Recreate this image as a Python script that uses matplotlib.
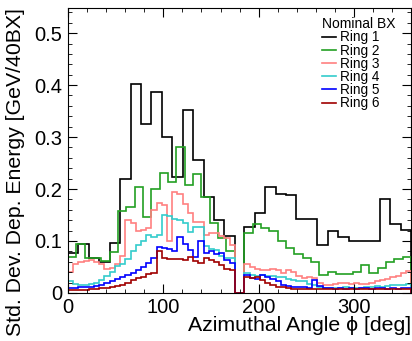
import numpy as np
import matplotlib
matplotlib.use("Agg")
import matplotlib.pyplot as plt
from matplotlib.ticker import MultipleLocator

plt.rcParams['font.family'] = ['Liberation Sans', 'DejaVu Sans']

# phi ranges of the two detector halves (gap 175-185 deg)
half1 = (0.0, 175.0)
half2 = (185.0, 360.0)

# ring 1: 16 segments per half
ring1_a = [0.0775, 0.095, 0.067, 0.060, 0.097, 0.22, 0.402, 0.325, 0.387, 0.30,
           0.2225, 0.353, 0.256, 0.185, 0.14, 0.11]
ring1_b = [0.1275, 0.153, 0.203, 0.19, 0.188, 0.142, 0.142, 0.093, 0.12, 0.108,
           0.10, 0.10, 0.10, 0.181, 0.132, 0.121]

# ring 2: 20 segments per half
ring2_a = [0.069, 0.094, 0.068, 0.067, 0.062, 0.078, 0.158, 0.165, 0.204, 0.147,
           0.20, 0.23, 0.213, 0.281, 0.208, 0.229, 0.185, 0.135, 0.105, 0.08]
ring2_b = [0.115, 0.133, 0.125, 0.12, 0.10, 0.086, 0.075, 0.067, 0.060, 0.035,
           0.041, 0.036, 0.036, 0.041, 0.054, 0.038, 0.047, 0.060, 0.065, 0.069]

# rings 3-6: 32 segments per half
ring3_a = [0.040, 0.055, 0.060, 0.062, 0.064, 0.060, 0.055, 0.046, 0.048, 0.055,
           0.072, 0.140, 0.135, 0.120, 0.121, 0.125, 0.160, 0.174, 0.170, 0.100,
           0.195, 0.190, 0.172, 0.153, 0.137, 0.137, 0.112, 0.116, 0.116, 0.110,
           0.105, 0.092]
ring3_b = [0.055, 0.050, 0.046, 0.044, 0.044, 0.046, 0.044, 0.038, 0.044, 0.040,
           0.032, 0.028, 0.030, 0.028, 0.020, 0.016, 0.016, 0.018, 0.019, 0.019,
           0.018, 0.019, 0.017, 0.018, 0.020, 0.022, 0.024, 0.026, 0.030, 0.033,
           0.038, 0.042]

ring4_a = [0.022, 0.018, 0.016, 0.016, 0.018, 0.020, 0.024, 0.032, 0.040, 0.052,
           0.055, 0.065, 0.080, 0.092, 0.100, 0.111, 0.108, 0.112, 0.150, 0.148,
           0.143, 0.140, 0.135, 0.118, 0.127, 0.127, 0.090, 0.085, 0.083, 0.072,
           0.068, 0.067]
ring4_b = [0.038, 0.034, 0.033, 0.034, 0.033, 0.032, 0.031, 0.031, 0.027, 0.025,
           0.022, 0.022, 0.018, 0.016, 0.012, 0.010, 0.009, 0.010, 0.009, 0.011,
           0.010, 0.009, 0.010, 0.011, 0.012, 0.013, 0.012, 0.014, 0.015, 0.016,
           0.015, 0.017]

ring5_a = [0.010, 0.010, 0.011, 0.011, 0.012, 0.013, 0.016, 0.019, 0.022, 0.026,
           0.030, 0.034, 0.038, 0.044, 0.050, 0.057, 0.067, 0.089, 0.087, 0.085,
           0.080, 0.108, 0.095, 0.083, 0.070, 0.099, 0.077, 0.080, 0.074, 0.077,
           0.063, 0.057]
ring5_b = [0.035, 0.028, 0.027, 0.035, 0.030, 0.027, 0.022, 0.016, 0.013, 0.012,
           0.012, 0.011, 0.010, 0.025, 0.014, 0.010, 0.009, 0.008, 0.009, 0.008,
           0.009, 0.007, 0.009, 0.010, 0.008, 0.009, 0.010, 0.008, 0.009, 0.008,
           0.009, 0.010]

ring6_a = [0.005, 0.005, 0.006, 0.006, 0.007, 0.008, 0.009, 0.010, 0.012, 0.014,
           0.016, 0.020, 0.025, 0.028, 0.031, 0.037, 0.038, 0.080, 0.067, 0.066,
           0.065, 0.066, 0.063, 0.070, 0.062, 0.057, 0.067, 0.063, 0.060, 0.054,
           0.046, 0.044]
ring6_b = [0.031, 0.029, 0.030, 0.025, 0.019, 0.015, 0.012, 0.011, 0.009, 0.008,
           0.0075, 0.007, 0.008, 0.007, 0.0075, 0.007, 0.008, 0.007, 0.0075, 0.007,
           0.008, 0.007, 0.0075, 0.008, 0.007, 0.0075, 0.008, 0.007, 0.0075, 0.008,
           0.007, 0.0075]

labels = ['Ring 1', 'Ring 2', 'Ring 3', 'Ring 4', 'Ring 5', 'Ring 6']
colors = ['black', '#22a022', '#ff8080', '#33cccc', '#0000ff', '#a00000']
rings = [(ring1_a, ring1_b), (ring2_a, ring2_b), (ring3_a, ring3_b),
         (ring4_a, ring4_b), (ring5_a, ring5_b), (ring6_a, ring6_b)]


def hist_edges(a, b):
    e1 = np.linspace(half1[0], half1[1], len(a) + 1)
    e2 = np.linspace(half2[0], half2[1], len(b) + 1)
    edges = np.concatenate([e1, e2])
    vals = np.concatenate([a, [0.0], b])
    return vals, edges


fig = plt.figure(figsize=(4.12, 3.41), dpi=100)
ax = fig.add_axes([0.165, 0.141, 0.833, 0.835])

for (a, b), lab, c in zip(rings, labels, colors):
    vals, edges = hist_edges(a, b)
    ax.stairs(vals, edges, baseline=0, color=c, lw=1.2, label=lab)

ax.set_xlim(0, 360)
ax.set_ylim(0, 0.548)
ax.xaxis.set_major_locator(MultipleLocator(100))
ax.xaxis.set_minor_locator(MultipleLocator(20))
ax.yaxis.set_major_locator(MultipleLocator(0.1))
ax.yaxis.set_minor_locator(MultipleLocator(0.02))
ax.yaxis.set_major_formatter(plt.FuncFormatter(lambda v, p: '0' if abs(v) < 1e-9 else '%.1f' % v))
ax.tick_params(which='both', direction='in', top=True, right=True, labelsize=14.5, pad=4)
ax.tick_params(which='major', length=6.5)
ax.tick_params(which='minor', length=3.2)

ax.set_xlabel('Azimuthal Angle \u03d5 [deg]', fontsize=15.3, ha='right')
ax.xaxis.set_label_coords(1.0, -0.08)
ax.set_ylabel('Std. Dev. Dep. Energy [GeV/40BX]', fontsize=15.3, ha='right')
ax.yaxis.set_label_coords(-0.125, 1.0)

ax.legend(title='Nominal BX', loc='upper left', bbox_to_anchor=(0.74, 0.968),
          frameon=False, fontsize=9.8, title_fontsize=10, handlelength=1.0,
          handletextpad=0.35, labelspacing=-0.06, borderpad=0, borderaxespad=0,
          alignment='left')

plt.savefig('out.png', dpi=100)
